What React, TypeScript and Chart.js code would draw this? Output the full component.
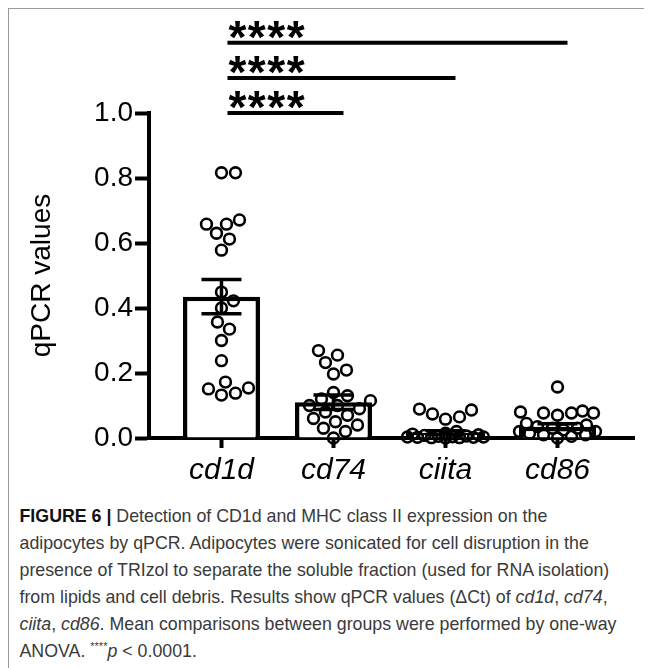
import React, { useEffect, useRef } from "react";
import { Chart, registerables } from "chart.js";

Chart.register(...registerables);

// ---------- data ----------
const categories = ["cd1d", "cd74", "ciita", "cd86"];

const cd1dValues = [
  0.816, 0.816, 0.658, 0.63, 0.658, 0.671, 0.612, 0.578, 0.449, 0.422,
  0.4, 0.357, 0.335, 0.3, 0.238, 0.172, 0.151, 0.132, 0.138, 0.154,
];
const cd74Values = [
  0.269, 0.255, 0.232, 0.209, 0.197, 0.14, 0.13, 0.12, 0.115, 0.1,
  0.1, 0.09, 0.08, 0.07, 0.06, 0.05, 0.04, 0.03, 0.02, 0.0,
];
const ciitaValues = [
  0.089, 0.086, 0.074, 0.065, 0.058, 0.02, 0.015, 0.012, 0.01, 0.008,
  0.006, 0.005, 0.004, 0.003, 0.003, 0.002, 0.002, 0.001, 0.001, 0.0,
];
const cd86Values = [
  0.157, 0.083, 0.08, 0.077, 0.077, 0.077, 0.07, 0.045, 0.04, 0.035,
  0.03, 0.03, 0.025, 0.02, 0.02, 0.015, 0.01, 0.01, 0.005, 0.0,
];

const meanValues = [0.435, 0.11, 0.016, 0.035];
const semValues = [0.053, 0.022, 0.006, 0.009];

const yTicks = [0, 0.2, 0.4, 0.6, 0.8, 1.0];

const comparisonFrom = [0, 0, 0];
const comparisonTo = [1, 2, 3];
const comparisonLabels = ["****", "****", "****"];

// ---------- helpers ----------
const FONT = "'Liberation Sans', Arial, Helvetica, sans-serif";
const groups = [cd1dValues, cd74Values, ciitaValues, cd86Values];

function swarm(chart: any) {
  const xs = chart.scales.x;
  const ys = chart.scales.y;
  const pxPerX = xs.getPixelForValue(1) - xs.getPixelForValue(0);
  const DIST = 13.5;
  const MAXOFF = 38;
  const pts: { x: number; y: number }[] = [];
  groups.forEach((vals, gi) => {
    const placed: { x: number; y: number }[] = [];
    const order = vals.map((_, i) => i).sort((a, b) => vals[a] - vals[b]);
    for (const idx of order) {
      const py = ys.getPixelForValue(vals[idx]);
      let best = 0;
      let bestScore = -Infinity;
      for (let k = 0; k <= 2 * MAXOFF; k++) {
        const off = k === 0 ? 0 : k % 2 === 1 ? Math.ceil(k / 2) : -k / 2;
        let minD = Infinity;
        for (const p of placed) {
          const d = Math.hypot(p.x - off, p.y - py);
          if (d < minD) minD = d;
        }
        if (minD >= DIST) {
          best = off;
          bestScore = Infinity;
          break;
        }
        if (minD > bestScore + 0.5) {
          bestScore = minD;
          best = off;
        }
      }
      placed.push({ x: best, y: py });
      pts.push({ x: gi + best / pxPerX, y: vals[idx] });
    }
  });
  chart.data.datasets[0].data = pts;
  chart.update("none");
}

const errorBarPlugin = {
  id: "errorBars",
  afterDatasetDraw(chart: any, args: any) {
    if (args.index !== 1) return;
    const { ctx } = chart;
    const xs = chart.scales.x;
    const ys = chart.scales.y;
    ctx.save();
    ctx.strokeStyle = "#000";
    ctx.lineWidth = 3.5;
    meanValues.forEach((m, i) => {
      const x = xs.getPixelForValue(i);
      const yTop = ys.getPixelForValue(m + semValues[i]);
      const yBot = ys.getPixelForValue(Math.max(0, m - semValues[i]));
      ctx.beginPath();
      ctx.moveTo(x, yBot);
      ctx.lineTo(x, yTop);
      ctx.moveTo(x - 20, yTop);
      ctx.lineTo(x + 20, yTop);
      ctx.moveTo(x - 20, yBot);
      ctx.lineTo(x + 20, yBot);
      ctx.stroke();
    });
    ctx.restore();
  },
};

const significancePlugin = {
  id: "significance",
  afterDraw(chart: any) {
    const { ctx } = chart;
    const xs = chart.scales.x;
    const ys = chart.scales.y;
    ctx.save();
    comparisonFrom.forEach((from, k) => {
      const to = comparisonTo[k];
      const y = ys.getPixelForValue(1.0 + k * 0.108);
      const x1 = xs.getPixelForValue(from) + 6;
      const x2 = xs.getPixelForValue(to) + 10;
      ctx.strokeStyle = "#000";
      ctx.lineWidth = 4;
      ctx.beginPath();
      ctx.moveTo(x1, y);
      ctx.lineTo(x2, y);
      ctx.stroke();
      ctx.fillStyle = "#000";
      ctx.font = `bold 46px ${FONT}`;
      (ctx as any).letterSpacing = "1.5px";
      ctx.textAlign = "left";
      ctx.textBaseline = "alphabetic";
      ctx.fillText(comparisonLabels[k], x1 + 1, y + 10);
    });
    ctx.restore();
  },
};

export default function App() {
  const canvasRef = useRef<HTMLCanvasElement | null>(null);

  useEffect(() => {
    if (!canvasRef.current) return;
    const chart = new Chart(canvasRef.current, {
      type: "bar",
      data: {
        datasets: [
          {
            type: "scatter",
            data: groups.flatMap((vals, gi) => vals.map((v) => ({ x: gi, y: v }))),
            showLine: false,
            pointRadius: 5.4,
            pointHoverRadius: 5.4,
            pointBorderWidth: 2.6,
            pointBorderColor: "#000",
            pointBackgroundColor: "rgba(0,0,0,0)",
            clip: false,
            order: 1,
          } as any,
          {
            type: "bar",
            data: meanValues.map((m, i) => ({ x: i, y: m })),
            backgroundColor: "#fff",
            borderColor: "#000",
            borderWidth: 4.5,
            borderSkipped: "start",
            barPercentage: 0.6875,
            categoryPercentage: 1,
            clip: false,
            order: 2,
          } as any,
        ],
      },
      options: {
        animation: false,
        responsive: false,
        events: [],
        layout: { padding: { top: 104, right: 17, bottom: 0, left: 0 } },
        plugins: {
          legend: { display: false },
          tooltip: { enabled: false },
        },
        scales: {
          x: {
            type: "linear",
            min: -0.647,
            max: 3.683,
            offset: false,
            z: 1,
            afterBuildTicks: (scale: any) => {
              scale.ticks = categories.map((_, i) => ({ value: i }));
            },
            afterFit: (scale: any) => {
              scale.height = 60;
            },
            grid: {
              offset: false,
              drawOnChartArea: false,
              drawTicks: true,
              tickLength: 10,
              tickWidth: 4,
              tickColor: "#000",
            },
            border: { display: true, width: 4, color: "#000" },
            ticks: {
              padding: 5,
              color: "#000",
              maxRotation: 0,
              autoSkip: false,
              font: { family: FONT, size: 30, style: "italic" },
              callback: (v: any) => categories[Math.round(Number(v))] ?? "",
            },
          } as any,
          y: {
            type: "linear",
            min: 0,
            max: 1.0,
            afterBuildTicks: (scale: any) => {
              scale.ticks = yTicks.map((v) => ({ value: v }));
            },
            afterFit: (scale: any) => {
              scale.width = 140;
            },
            grid: {
              drawOnChartArea: false,
              drawTicks: true,
              tickLength: 14,
              tickWidth: 4,
              tickColor: "#000",
            },
            border: { display: true, width: 4, color: "#000" },
            ticks: {
              padding: 2,
              color: "#000",
              font: { family: FONT, size: 28 },
              callback: (v: any) => Number(v).toFixed(1),
            },
            title: {
              display: true,
              text: "qPCR values",
              color: "#000",
              font: { family: FONT, size: 28 },
              padding: { top: 16, bottom: 0 },
            },
          } as any,
        },
      },
      plugins: [errorBarPlugin, significancePlugin],
    });
    swarm(chart);
    return () => chart.destroy();
  }, []);

  return (
    <div
      style={{
        position: "relative",
        width: 644,
        height: 660,
        boxSizing: "border-box",
        borderLeft: "1.5px solid #9a9a9a",
        borderTop: "1.5px solid #9a9a9a",
        overflow: "hidden",
      }}
    >
      <canvas
        ref={canvasRef}
        width={642}
        height={489}
        style={{ position: "absolute", left: 0, top: 0, width: 642, height: 489 }}
      />
      <div
        style={{
          position: "absolute",
          left: 10.5,
          top: 494,
          fontFamily: FONT,
          fontSize: 17.8,
          lineHeight: "27px",
          color: "#3a3a3a",
          whiteSpace: "nowrap",
        }}
      >
        <b style={{ color: "#111" }}>FIGURE 6 |</b> Detection of CD1d and MHC class II expression on the
        <br />
        adipocytes by qPCR. Adipocytes were sonicated for cell disruption in the
        <br />
        presence of TRIzol to separate the soluble fraction (used for RNA isolation)
        <br />
        from lipids and cell debris. Results show qPCR values (ΔCt) of <i>cd1d</i>, <i>cd74</i>,
        <br />
        <i>ciita</i>, <i>cd86</i>. Mean comparisons between groups were performed by one-way
        <br />
        ANOVA. <sup style={{ fontSize: 11, lineHeight: 0 }}>****</sup>
        <i>p</i> &lt; 0.0001.
      </div>
    </div>
  );
}
